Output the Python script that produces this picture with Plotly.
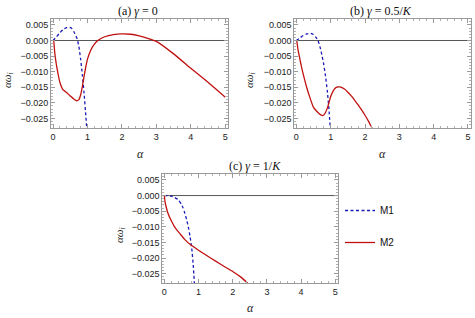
import plotly.graph_objects as go

# ---- data ----
# panel (a) gamma = 0
a_m1_x = [0, 0.1, 0.2, 0.3, 0.4, 0.48, 0.55, 0.62, 0.7, 0.75, 0.8, 0.85, 0.9, 0.95, 0.98]
a_m1_y = [0, 0.0012, 0.0025, 0.0036, 0.0041, 0.0042, 0.0038, 0.0025, 0.0005, -0.002, -0.006, -0.011, -0.017, -0.024, -0.0285]
a_m2_x = [0.02, 0.05, 0.1, 0.15, 0.2, 0.28, 0.4, 0.5, 0.6, 0.69, 0.75, 0.8, 0.85, 0.9, 0.95, 1.0, 1.1, 1.2, 1.3,
          1.5, 1.75, 2.0, 2.25, 2.5, 2.75, 3.0, 3.5, 4.0, 4.5, 5.0]
a_m2_y = [0, -0.004, -0.008, -0.011, -0.0135, -0.0157, -0.0168, -0.0178, -0.0188, -0.0194, -0.019, -0.0175, -0.0148,
          -0.0115, -0.0085, -0.006, -0.003, -0.0012, 0.0, 0.0012, 0.0019, 0.0021, 0.002, 0.0015, 0.0007, -0.0003,
          -0.0043, -0.0089, -0.0134, -0.0182]

# panel (b) gamma = 0.5/K
b_m1_x = [0, 0.1, 0.2, 0.3, 0.42, 0.5, 0.58, 0.63, 0.7, 0.75, 0.8, 0.85, 0.9, 0.95, 0.99]
b_m1_y = [0, 0.0008, 0.0016, 0.0021, 0.0023, 0.0019, 0.0009, 0, -0.0025, -0.005, -0.0078, -0.0115, -0.016, -0.0221, -0.0285]
b_m2_x = [0.01, 0.05, 0.1, 0.15, 0.2, 0.3, 0.4, 0.5, 0.6, 0.7, 0.77, 0.83, 0.9, 0.95, 1.0, 1.06, 1.12, 1.21, 1.3,
          1.4, 1.5, 1.6, 1.7, 1.8, 1.9, 2.0, 2.1, 2.2, 2.25]
b_m2_y = [0, -0.003, -0.0058, -0.0085, -0.0108, -0.015, -0.0185, -0.0215, -0.0228, -0.0238, -0.0241, -0.0235,
          -0.0218, -0.02, -0.018, -0.0165, -0.0154, -0.0149, -0.015, -0.0156, -0.0166, -0.0178, -0.0192, -0.0207,
          -0.0223, -0.024, -0.0259, -0.028, -0.029]

# panel (c) gamma = 1/K
c_m1_x = [0, 0.1, 0.2, 0.3, 0.4, 0.5, 0.55, 0.6, 0.65, 0.7, 0.75, 0.8, 0.85, 0.88]
c_m1_y = [0, -0.00003, -0.0002, -0.0006, -0.0013, -0.0028, -0.004, -0.0057, -0.0077, -0.01, -0.013, -0.0168, -0.023, -0.0285]
c_m2_x = [0, 0.02, 0.05, 0.1, 0.2, 0.3, 0.4, 0.5, 0.6, 0.75, 1.0, 1.25, 1.5, 1.75, 2.0, 2.25, 2.45]
c_m2_y = [0, -0.002, -0.0035, -0.0055, -0.008, -0.01, -0.0115, -0.0128, -0.0141, -0.0156, -0.0175, -0.0193,
          -0.021, -0.0227, -0.0243, -0.0262, -0.0282]

titles = ["(a) <i>γ</i> = 0", "(b) <i>γ</i> = 0.5/<i>K</i>", "(c) <i>γ</i> = 1/<i>K</i>"]
series_names = ["M1", "M2"]
x_ticks = [0, 1, 2, 3, 4, 5]
y_ticks = [0.005, 0.0, -0.005, -0.010, -0.015, -0.020, -0.025]
y_tick_text = ["0.005", "0.000", "−0.005", "−0.010", "−0.015", "−0.020", "−0.025"]

W, H = 475, 318
BLUE = "#1a1ab8"
RED = "#c01010"
FRAME = "#9a9a9a"

# pixel boxes [left, right, top, bottom]
boxes = [(51, 228, 19, 128), (294.3, 470.7, 19, 128), (162.3, 338, 174, 283.3)]

fig = go.Figure()
panels = [(a_m1_x, a_m1_y, a_m2_x, a_m2_y), (b_m1_x, b_m1_y, b_m2_x, b_m2_y), (c_m1_x, c_m1_y, c_m2_x, c_m2_y)]

for i, (m1x, m1y, m2x, m2y) in enumerate(panels):
    sfx = "" if i == 0 else str(i + 1)
    xa, ya = "x" + sfx, "y" + sfx
    # zero line
    fig.add_trace(go.Scatter(x=[-0.06, 5.08], y=[0, 0], mode="lines", xaxis=xa, yaxis=ya,
                             line=dict(color="#555555", width=1), showlegend=False, hoverinfo="skip"))
    fig.add_trace(go.Scatter(x=m1x, y=m1y, mode="lines", xaxis=xa, yaxis=ya, name=series_names[0],
                             line=dict(color=BLUE, width=1.3, dash="3px,2.5px", shape="spline", smoothing=0.5),
                             showlegend=(i == 2), legendgroup="m1"))
    fig.add_trace(go.Scatter(x=m2x, y=m2y, mode="lines", xaxis=xa, yaxis=ya, name=series_names[1],
                             line=dict(color=RED, width=1.3, shape="spline", smoothing=0.4),
                             showlegend=(i == 2), legendgroup="m2"))
    l, r, t, b = boxes[i]
    axcommon = dict(showgrid=False, zeroline=False, showline=True, linecolor=FRAME, linewidth=1,
                    mirror="allticks", ticks="inside", tickcolor=FRAME, ticklen=4,
                    tickfont=dict(family="Liberation Sans, Arial", size=9, color="#222222"))
    fig.update_layout(**{
        "xaxis" + sfx: dict(domain=[l / W, r / W], range=[-0.06, 5.08], anchor=ya,
                            tickvals=x_ticks, ticktext=[str(v) for v in x_ticks],
                            minor=dict(dtick=0.2, ticklen=2, tickcolor="#b0b0b0", ticks="inside"),
                            **axcommon),
        "yaxis" + sfx: dict(domain=[1 - b / H, 1 - t / H], range=[-0.0281, 0.0069], anchor=xa,
                            tickvals=y_ticks, ticktext=y_tick_text,
                            minor=dict(dtick=0.001, ticklen=2, tickcolor="#b0b0b0", ticks="inside"),
                            **axcommon),
    })

# titles and axis labels
serif = "Liberation Serif, Times New Roman"
ann = []
title_pos = [(138, 11), (381, 11), (255, 166)]
for (cx, cy), txt in zip(title_pos, titles):
    ann.append(dict(x=cx / W, y=1 - cy / H, xref="paper", yref="paper", text=txt, showarrow=False,
                    font=dict(family=serif, size=12, color="#111"), xanchor="center", yanchor="middle"))
xlab_pos = [(140, 154), (382, 154), (250, 308)]
for cx, cy in xlab_pos:
    ann.append(dict(x=cx / W, y=1 - cy / H, xref="paper", yref="paper", text="<i>α</i>", showarrow=False,
                    font=dict(family=serif, size=12, color="#222"), xanchor="center", yanchor="middle"))
ylab_pos = [(8, 80), (250, 80), (120, 235)]
for cx, cy in ylab_pos:
    ann.append(dict(x=cx / W, y=1 - cy / H, xref="paper", yref="paper",
                    text="<i>αω</i><sub><i>i</i></sub>", showarrow=False, textangle=-90,
                    font=dict(family=serif, size=11, color="#222"), xanchor="center", yanchor="middle"))

fig.update_layout(
    width=W, height=H, margin=dict(l=0, r=0, t=0, b=0),
    paper_bgcolor="white", plot_bgcolor="white",
    annotations=ann,
    legend=dict(x=340 / W, y=1 - 196 / H, xanchor="left", yanchor="top",
                font=dict(family="Liberation Sans, Arial", size=10, color="#111"),
                tracegroupgap=13, bgcolor="rgba(0,0,0,0)", itemwidth=30),
)

fig.write_html("out.html", config={"displayModeBar": False},
               post_script="document.body.style.margin='0';document.body.style.overflow='hidden';")
